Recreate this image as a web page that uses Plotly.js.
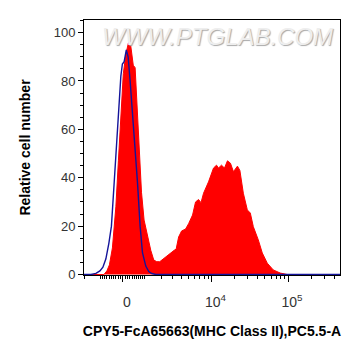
<!DOCTYPE html>
<html>
<head>
<meta charset="utf-8">
<script src="https://cdn.plot.ly/plotly-3.0.1.min.js"></script>
<style>html,body{margin:0;padding:0;background:#fff;}#chart{width:363px;height:356px;}</style>
</head>
<body>
<div id="chart"></div>
<script>
// Display position on the biexponential axis (decade-like units, 0 = value 0)
const sampleX = [-0.52,-0.286,-0.247,-0.208,-0.175,-0.136,-0.091,-0.058,-0.026,0.006,0.039,0.071,0.095,0.117,0.136,0.160,0.182,0.212,0.243,0.277,0.321,0.364,0.403,0.442,0.481,0.519,0.571,0.623,0.669,0.695,0.727,0.766,0.818,0.857,0.909,0.948,0.987,1.019,1.052,1.117,1.182,1.221,1.247,1.286,1.325,1.364,1.403,1.442,1.494,1.526,1.571,1.623,1.662,1.701,1.766,1.818,1.883,1.961,2.052,2.143,2.84];
const sampleY = [0,0,0,1.5,4,11,28,47,66,83,91,95.5,96.5,92,86.5,85.5,71,50,34,22.5,15.5,10,6,5.3,5.3,6.3,7.8,9,10,10.5,15.5,18,18.8,21,24.6,30,31,29.7,33.6,38.3,44,45.2,44,45.2,44,47,46,42.5,44.8,43,33.6,26.7,25.4,19.8,14.3,8.9,4.7,1.9,0.6,0,0];
const controlX = [-0.52,-0.416,-0.351,-0.299,-0.260,-0.221,-0.182,-0.149,-0.117,-0.084,-0.052,-0.026,-0.006,0.017,0.045,0.069,0.095,0.126,0.156,0.191,0.225,0.256,0.299,0.338,0.377,0.429,2.84];
const controlY = [0,0,0.5,1.5,3,6.5,13,20,36,52,70,82,87,88,92.8,90,80,67,52,38,20,9,3.5,1.2,0.4,0,0];

const majorTickValues = [0, 1e4, 1e5];
const majorTickLabels = ['0', '10<sup>4</sup>', '10<sup>5</sup>'];
const minorTickValues = [-2000,-1000,-900,-800,-700,-600,-500,-400,-300,-200,-100,100,200,300,400,500,600,700,800,900,1000,2000,3000,4000,5000,6000,7000,8000,9000,20000,30000,40000,50000,60000,70000,80000,90000,200000,300000,400000];

const W = 1403;
const T = v => Math.asinh(v / W) / Math.LN10;
const xRange = [-0.5065, 2.8312];

const traces = [
  {
    x: sampleX, y: sampleY, type: 'scatter', mode: 'lines',
    fill: 'tozeroy', fillcolor: '#ff0000',
    line: {color: '#ff0000', width: 1, shape: 'linear'},
    hoverinfo: 'skip'
  },
  {
    x: controlX, y: controlY, type: 'scatter', mode: 'lines',
    line: {color: '#14149a', width: 1.4},
    hoverinfo: 'skip'
  }
];

const layout = {
  width: 363, height: 356,
  margin: {l: 84, r: 23, t: 20, b: 81},
  paper_bgcolor: '#fff', plot_bgcolor: '#fff',
  showlegend: false,
  font: {family: 'Liberation Sans, Arial, sans-serif', color: '#333', size: 13},
  xaxis: {
    range: xRange, showgrid: false, zeroline: false,
    showline: true, mirror: true, linecolor: '#000', linewidth: 1,
    ticks: 'outside', ticklen: 6, tickcolor: '#000', tickwidth: 1,
    tickmode: 'array',
    tickvals: majorTickValues.map(T),
    ticktext: majorTickLabels,
    tickfont: {size: 14, color: '#333'},
    ticklabelstandoff: 8,
    ticklabelshift: 4,
    minor: {tickmode: 'array', tickvals: minorTickValues.map(T), ticks: 'outside', ticklen: 3, tickcolor: '#000', tickwidth: 1, showgrid: false},
    title: {text: 'CPY5-FcA65663(MHC Class II),PC5.5-A', font: {size: 14, color: '#000', weight: 'bold'}, standoff: 17}
  },
  yaxis: {
    range: [-0.2, 105.2], showgrid: false, zeroline: false,
    showline: true, mirror: true, linecolor: '#000', linewidth: 1,
    ticks: 'outside', ticklen: 5, tickcolor: '#000', tickwidth: 1,
    tickmode: 'linear', tick0: 0, dtick: 20,
    tickfont: {size: 13, color: '#333'},
    minor: {dtick: 5, ticks: 'outside', ticklen: 3, tickcolor: '#000', tickwidth: 1, showgrid: false},
    title: {text: 'Relative cell number', font: {size: 14, color: '#000', weight: 'bold'}, standoff: 19}
  },
  annotations: [
    {
      text: 'WWW.PTGLAB.COM', xref: 'paper', yref: 'paper', x: 0.52, y: 0.995,
      xanchor: 'center', yanchor: 'top', showarrow: false,
      font: {family: 'Liberation Sans, Arial, sans-serif', size: 24, color: '#eeeeee', style: 'italic', shadow: '1px 1px 1px #a8a8a8'}
    }
  ]
};

Plotly.newPlot('chart', traces, layout, {staticPlot: true, displayModeBar: false});
</script>
</body>
</html>
